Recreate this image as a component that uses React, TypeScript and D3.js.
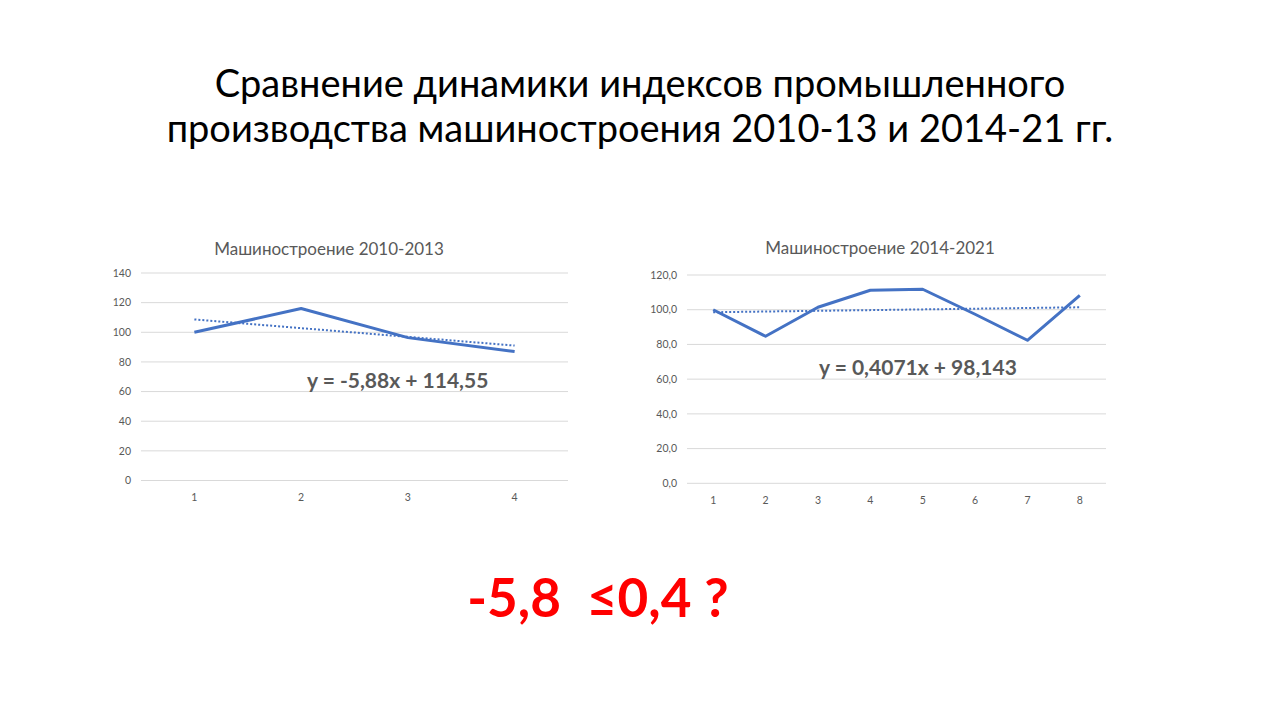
import React from "react";
import * as d3 from "d3";

const titleLines = [
  "Сравнение динамики индексов промышленного",
  "производства машиностроения 2010-13 и 2014-21 гг.",
];

const chart1Title = "Машиностроение 2010-2013";
const chart1Categories = ["1", "2", "3", "4"];
const chart1Values = [100, 116, 96.4, 87];
const chart1Ticks = [0, 20, 40, 60, 80, 100, 120, 140];
const chart1Trend = { slope: -5.88, intercept: 114.55 };
const chart1Equation = "y = -5,88x + 114,55";

const chart2Title = "Машиностроение 2014-2021";
const chart2Categories = ["1", "2", "3", "4", "5", "6", "7", "8"];
const chart2Values = [100, 84.7, 101.4, 111.2, 111.8, 97.4, 82.4, 108.3];
const chart2Ticks = [0, 20, 40, 60, 80, 100, 120];
const chart2Trend = { slope: 0.4071, intercept: 98.143 };
const chart2Equation = "y = 0,4071x + 98,143";

const bottomText = "-5,8  ≤0,4 ?";

const BLUE = "#4472C4";
const GREY = "#595959";
const GRID = "#d9d9d9";
const FONT = "Lato, 'Open Sans', sans-serif";

type ChartProps = {
  title: string;
  titleX: number;
  titleY: number;
  categories: string[];
  values: number[];
  ticks: number[];
  tickFmt: (v: number) => string;
  trend: { slope: number; intercept: number };
  equation: string;
  eqX: number;
  eqY: number;
  x0: number;
  x1: number;
  yTop: number;
  yBottom: number;
  yMax: number;
};

function Chart(p: ChartProps) {
  const x = d3.scaleBand<string>().domain(p.categories).range([p.x0, p.x1]);
  const y = d3.scaleLinear().domain([0, p.yMax]).range([p.yBottom, p.yTop]);
  const cx = (c: string) => (x(c) as number) + x.bandwidth() / 2;
  const line = d3
    .line<number>()
    .x((_, i) => cx(p.categories[i]))
    .y((d) => y(d));
  const n = p.categories.length;
  const t1 = p.trend.slope * 1 + p.trend.intercept;
  const tn = p.trend.slope * n + p.trend.intercept;
  return (
    <g>
      <text
        x={p.titleX}
        y={p.titleY}
        textAnchor="middle"
        fontFamily={FONT}
        fontSize={17}
        fill={GREY}
      >
        {p.title}
      </text>
      {p.ticks.map((t) => (
        <g key={t}>
          <line x1={p.x0} x2={p.x1} y1={y(t)} y2={y(t)} stroke={GRID} strokeWidth={1} />
          <text
            x={p.x0 - 10}
            y={y(t)}
            dy="0.35em"
            textAnchor="end"
            fontFamily={FONT}
            fontSize={10.5}
            fill={GREY}
          >
            {p.tickFmt(t)}
          </text>
        </g>
      ))}
      {p.categories.map((c) => (
        <text
          key={c}
          x={cx(c)}
          y={p.yBottom + 17}
          dy="0.35em"
          textAnchor="middle"
          fontFamily={FONT}
          fontSize={10.5}
          fill={GREY}
        >
          {c}
        </text>
      ))}
      <path d={line(p.values) || ""} fill="none" stroke={BLUE} strokeWidth={3} strokeLinejoin="round" />
      <line
        x1={cx(p.categories[0])}
        x2={cx(p.categories[n - 1])}
        y1={y(t1)}
        y2={y(tn)}
        stroke={BLUE}
        strokeWidth={2}
        strokeDasharray="2 2"
      />
      <text
        x={p.eqX}
        y={p.eqY}
        dy="0.35em"
        fontFamily={FONT}
        fontSize={21}
        fontWeight="bold"
        fill={GREY}
      >
        {p.equation}
      </text>
    </g>
  );
}

export default function App() {
  return (
    <svg
      width={1280}
      height={720}
      style={{ position: "absolute", left: 0, top: 0, background: "#fff" }}
    >
      <rect width={1280} height={720} fill="#fff" />
      {titleLines.map((l, i) => (
        <text
          key={i}
          x={640}
          y={84 + i * 45}
          dy="0.35em"
          textAnchor="middle"
          fontFamily={FONT}
          fontSize={38}
          fontWeight={400}
          fill="#000"
        >
          {l}
        </text>
      ))}
      <Chart
        title={chart1Title}
        titleX={329}
        titleY={255}
        categories={chart1Categories}
        values={chart1Values}
        ticks={chart1Ticks}
        tickFmt={(v) => String(v)}
        trend={chart1Trend}
        equation={chart1Equation}
        eqX={307}
        eqY={381}
        x0={141}
        x1={568}
        yTop={273}
        yBottom={480.5}
        yMax={140}
      />
      <Chart
        title={chart2Title}
        titleX={880}
        titleY={254}
        categories={chart2Categories}
        values={chart2Values}
        ticks={chart2Ticks}
        tickFmt={(v) => d3.format(".1f")(v).replace(".", ",")}
        trend={chart2Trend}
        equation={chart2Equation}
        eqX={819}
        eqY={368}
        x0={687}
        x1={1106}
        yTop={275}
        yBottom={483.3}
        yMax={120}
      />
      <text
        x={598}
        y={598}
        dy="0.35em"
        textAnchor="middle"
        fontFamily={FONT}
        fontSize={53}
        fontWeight="bold"
        fill="#ff0000"
        style={{ whiteSpace: "pre" }}
      >
        {bottomText}
      </text>
    </svg>
  );
}
